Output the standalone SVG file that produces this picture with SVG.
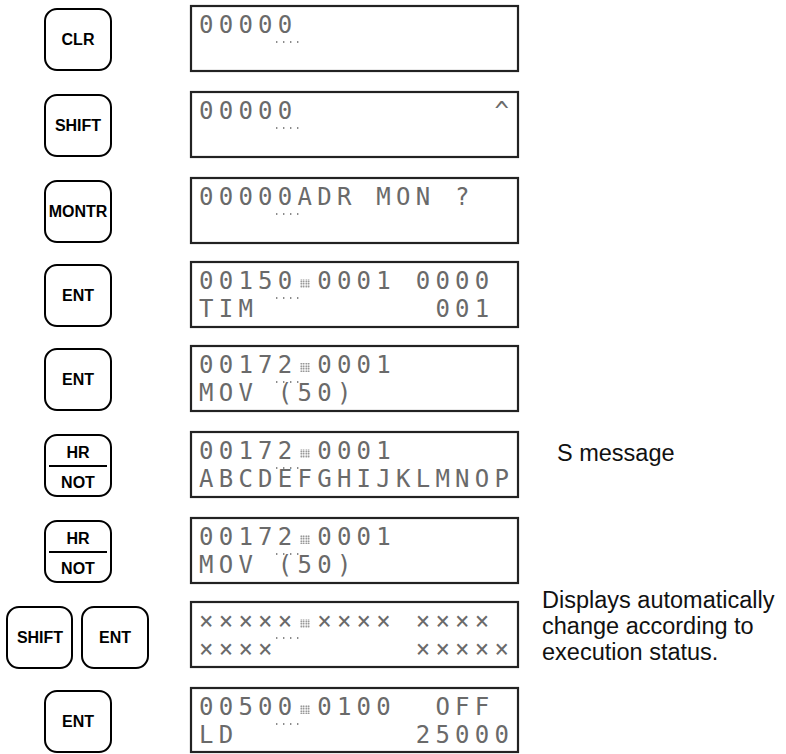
<svg xmlns="http://www.w3.org/2000/svg" width="786" height="754" viewBox="0 0 786 754">
<style>
.key{fill:#fff;stroke:#000;stroke-width:2}
.kl{font-family:"Liberation Sans",Arial,sans-serif;font-weight:bold;font-size:16px;fill:#000;text-anchor:middle}
.lcd{fill:#fff;stroke:#222;stroke-width:2.2}
.t{font-family:"DejaVu Sans Mono",monospace;font-size:24px;letter-spacing:5.25px;fill:#6a6a6a}
.cur{stroke:#666;stroke-width:1.4;stroke-dasharray:1.4 5.6}
.note{font-family:"Liberation Sans",Arial,sans-serif;font-size:23.5px;fill:#111}
.div{stroke:#000;stroke-width:2}
</style>
<defs>
<pattern id="dots" width="2.5" height="2.5" patternUnits="userSpaceOnUse"><circle cx="1.25" cy="1.25" r="0.8" fill="#666"/></pattern>
</defs>

<g id="key-clr"><rect class="key" x="45" y="9" width="66" height="61" rx="12"/><text class="kl" x="78" y="45">CLR</text></g>
<g id="key-shift1"><rect class="key" x="45" y="95" width="66" height="61" rx="12"/><text class="kl" x="78" y="131">SHIFT</text></g>
<g id="key-montr"><rect class="key" x="45" y="181" width="66" height="61" rx="12"/><text class="kl" x="78" y="217">MONTR</text></g>
<g id="key-ent1"><rect class="key" x="45" y="265" width="66" height="61" rx="12"/><text class="kl" x="78" y="301">ENT</text></g>
<g id="key-ent2"><rect class="key" x="45" y="349" width="66" height="61" rx="12"/><text class="kl" x="78" y="385">ENT</text></g>
<g id="key-hrnot1"><rect class="key" x="45" y="435" width="66" height="61" rx="12"/><text class="kl" x="78" y="458">HR</text><line class="div" x1="49" y1="466" x2="107" y2="466"/><text class="kl" x="78" y="488">NOT</text></g>
<g id="key-hrnot2"><rect class="key" x="45" y="521" width="66" height="61" rx="12"/><text class="kl" x="78" y="544">HR</text><line class="div" x1="49" y1="552" x2="107" y2="552"/><text class="kl" x="78" y="574">NOT</text></g>
<g id="key-shift2"><rect class="key" x="7" y="607" width="65" height="61" rx="12"/><text class="kl" x="40" y="643">SHIFT</text></g>
<g id="key-ent3"><rect class="key" x="82" y="607" width="66" height="61" rx="12"/><text class="kl" x="115" y="643">ENT</text></g>
<g id="key-ent4"><rect class="key" x="45" y="691" width="66" height="61" rx="12"/><text class="kl" x="78" y="727">ENT</text></g>

<g id="lcd1"><rect class="lcd" x="191" y="6" width="327" height="65"/>
<text class="t" x="199" y="33">00000</text><line class="cur" x1="276" y1="42" x2="298.4" y2="42"/></g>

<g id="lcd2"><rect class="lcd" x="191" y="92" width="327" height="65"/>
<text class="t" x="199" y="119">00000</text><text class="t" x="494.5" y="119">^</text><line class="cur" x1="276" y1="128" x2="298.4" y2="128"/></g>

<g id="lcd3"><rect class="lcd" x="191" y="178" width="327" height="65"/>
<text class="t" x="199" y="205">00000ADR</text><text class="t" x="376.3" y="205">MON</text><text class="t" x="455.1" y="205">?</text><line class="cur" x1="276" y1="214" x2="298.4" y2="214"/></g>

<g id="lcd4"><rect class="lcd" x="191" y="262" width="327" height="65"/>
<text class="t" x="199" y="289">00150</text><rect x="300" y="279" width="10" height="9" fill="url(#dots)"/><text class="t" x="317.2" y="289">0001</text><text class="t" x="415.7" y="289">0000</text>
<line class="cur" x1="276" y1="298" x2="298.4" y2="298"/>
<text class="t" x="199" y="317">TIM</text><text class="t" x="435.4" y="317">001</text></g>

<g id="lcd5"><rect class="lcd" x="191" y="346" width="327" height="65"/>
<text class="t" x="199" y="373">00172</text><rect x="300" y="363" width="10" height="9" fill="url(#dots)"/><text class="t" x="317.2" y="373">0001</text>
<line class="cur" x1="276" y1="382" x2="298.4" y2="382"/>
<text class="t" x="199" y="401">MOV</text><text class="t" x="277.8" y="401">(50)</text></g>

<g id="lcd6"><rect class="lcd" x="191" y="432" width="327" height="65"/>
<text class="t" x="199" y="459">00172</text><rect x="300" y="449" width="10" height="9" fill="url(#dots)"/><text class="t" x="317.2" y="459">0001</text>
<line class="cur" x1="276" y1="468" x2="298.4" y2="468"/>
<text class="t" x="199" y="487">ABCDEFGHIJKLMNOP</text></g>

<g id="lcd7"><rect class="lcd" x="191" y="518" width="327" height="65"/>
<text class="t" x="199" y="545">00172</text><rect x="300" y="535" width="10" height="9" fill="url(#dots)"/><text class="t" x="317.2" y="545">0001</text>
<line class="cur" x1="276" y1="554" x2="298.4" y2="554"/>
<text class="t" x="199" y="573">MOV</text><text class="t" x="277.8" y="573">(50)</text></g>

<g id="lcd8"><rect class="lcd" x="191" y="602" width="327" height="65"/>
<text class="t" x="199" y="629">×××××</text><rect x="300" y="619" width="10" height="9" fill="url(#dots)"/><text class="t" x="317.2" y="629">××××</text><text class="t" x="415.7" y="629">××××</text>
<line class="cur" x1="276" y1="638" x2="298.4" y2="638"/>
<text class="t" x="199" y="657">××××</text><text class="t" x="415.7" y="657">×××××</text></g>

<g id="lcd9"><rect class="lcd" x="191" y="688" width="327" height="64"/>
<text class="t" x="199" y="715">00500</text><rect x="300" y="705" width="10" height="9" fill="url(#dots)"/><text class="t" x="317.2" y="715">0100</text><text class="t" x="435.4" y="715">OFF</text>
<line class="cur" x1="276" y1="724" x2="298.4" y2="724"/>
<text class="t" x="199" y="743">LD</text><text class="t" x="415.7" y="743">25000</text></g>

<g id="note-s"><text class="note" x="557" y="461">S message</text></g>
<g id="note-auto"><text class="note" x="542" y="608">Displays automatically</text><text class="note" x="542" y="634">change according to</text><text class="note" x="542" y="660">execution status.</text></g>
</svg>
